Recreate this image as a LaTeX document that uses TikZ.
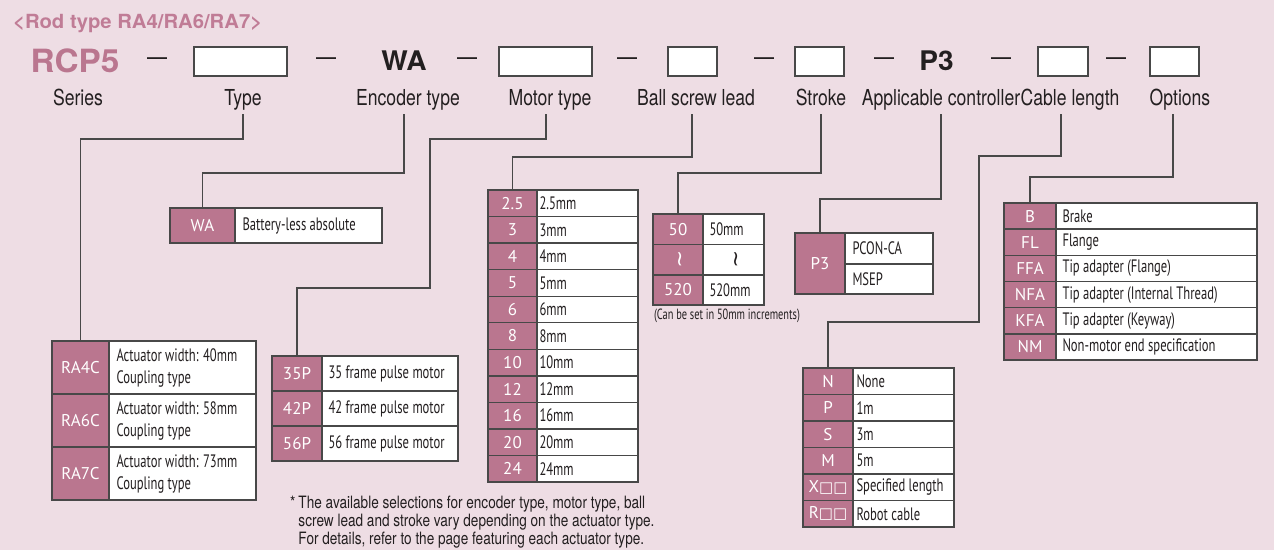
\documentclass[tikz,border=0pt]{standalone}
\usepackage{graphicx}
\usepackage{fontspec}
\setmainfont{TeX Gyre Heros}
\newfontfamily\hcn{TeX Gyre Heros}[FakeStretch=0.8]
\newfontfamily\hwd{TeX Gyre Heros}[FakeStretch=1.04]
\newfontfamily\pts{PT Sans}
\newfontfamily\ptn{PT Sans}[FakeStretch=0.70]
\newfontfamily\dvs{DejaVu Sans}
\definecolor{bgc}{RGB}{238,221,228}
\definecolor{pinkc}{RGB}{186,118,143}
\definecolor{titlec}{RGB}{192,124,150}
\definecolor{edgec}{RGB}{72,72,72}
\definecolor{txtc}{RGB}{35,31,32}
\newcommand\ccell[6]{%
 \pgfmathsetmacro\qcw{#3-#2}\pgfmathsetmacro\qch{#5-#4}%
 \pgfmathsetmacro\qcx{(#2+#3)/2}\pgfmathsetmacro\qcy{(#4+#5)/2}%
 \node[codecell, minimum width=\qcw pt, minimum height=\qch pt] (#1) at (\qcx,\qcy) {#6};}
\newcommand\dcell[7]{%
 \pgfmathsetmacro\qcw{#3-#2}\pgfmathsetmacro\qch{#5-#4}%
 \pgfmathsetmacro\qcx{(#2+#3)/2}\pgfmathsetmacro\qcy{(#4+#5)/2}%
 \node[desccell, minimum width=\qcw pt, minimum height=\qch pt] (#1) at (\qcx,\qcy) {};
 \node[desctext] (#1t) at ([xshift=#7pt]#1.west) {#6};}
\newcommand\rng{\rotatebox{-90}{\dvs\fontsize{21}{21}\selectfont ∼}}
\newcommand\sqq{{\dvs\fontsize{15}{15}\selectfont □□}}
\tikzset{
 lab/.style={anchor=base, inner sep=0, font=\hcn\fontsize{22}{26}\selectfont, text=txtc},
 dashs/.style={anchor=base, inner sep=0, font=\hcn\fontsize{25}{26}\selectfont, text=txtc},
 topbox/.style={draw=edgec, line width=1.3pt, fill=white, inner sep=0},
 bigpink/.style={anchor=base, inner sep=0, font=\hwd\bfseries\fontsize{32}{34}\selectfont, text=pinkc},
 bigblack/.style={anchor=base, inner sep=0, font=\hwd\bfseries\fontsize{27}{28}\selectfont, text=txtc},
 codecell/.style={draw=edgec, line width=1.4pt, fill=pinkc, text=white, inner sep=0, font=\pts\fontsize{17}{20}\selectfont},
 desccell/.style={draw=edgec, line width=1.4pt, fill=white, inner sep=0},
 desctext/.style={anchor=west, inner sep=0, text=txtc, align=left, font=\ptn\fontsize{18}{22}\selectfont},
 conn/.style={draw=edgec, line width=1.1pt},
}
\begin{document}
\begin{tikzpicture}[x=1pt,y=-1pt]
\useasboundingbox (0,0) rectangle (1274,550);
\fill[bgc] (0,0) rectangle (1274,550);
% title
\node[anchor=base west, inner sep=0, font=\hwd\bfseries\fontsize{19.5}{21}\selectfont, text=titlec] (title) at (13,28) {<Rod type RA4/RA6/RA7>};
% top row
\node[bigpink] (rcp) at (75,72) {RCP5};
\node[dashs] (d1) at (157,65) {—};
\node[topbox, minimum width=93pt, minimum height=29pt] (bType) at (240.5,61.5) {};
\node[dashs] (d2) at (326,65) {—};
\node[bigblack] (wa) at (404,70) {WA};
\node[dashs] (d3) at (467,65) {—};
\node[topbox, minimum width=93pt, minimum height=29pt] (bMotor) at (545.5,61.5) {};
\node[dashs] (d4) at (627,65) {—};
\node[topbox, minimum width=49pt, minimum height=29pt] (bLead) at (692.5,61.5) {};
\node[dashs] (d5) at (764,65) {—};
\node[topbox, minimum width=49pt, minimum height=29pt] (bStroke) at (819.5,61.5) {};
\node[dashs] (d6) at (884,65) {—};
\node[bigblack] (p3) at (936.5,70) {P3};
\node[dashs] (d7) at (1001,65) {—};
\node[topbox, minimum width=50pt, minimum height=29pt] (bCable) at (1063,61.5) {};
\node[dashs] (d8) at (1116,65) {—};
\node[topbox, minimum width=49pt, minimum height=29pt] (bOpt) at (1174.5,61.5) {};
% labels
\node[lab] (lSeries) at (78,105) {Series};
\node[lab] (lType) at (243,105) {Type};
\node[lab] (lEnc) at (408,105) {Encoder type};
\node[lab] (lMotor) at (550,105) {Motor type};
\node[lab] (lLead) at (696,105) {Ball screw lead};
\node[lab] (lStroke) at (821,105) {Stroke};
\node[lab] (lCtrl) at (941,105) {Applicable controller};
\node[lab] (lCable) at (1070,105) {Cable length};
\node[lab] (lOpt) at (1180,105) {Options};
\coordinate (tType) at (243,114);
\coordinate (tEnc) at (404,114);
\coordinate (tMotor) at (546,114);
\coordinate (tLead) at (692,114);
\coordinate (tStroke) at (821,114);
\coordinate (tCtrl) at (941,114);
\coordinate (tCable) at (1061,114);
\coordinate (tOpt) at (1173,114);
% type table
\ccell{ra0c}{52}{109}{341}{394}{RA4C}\dcell{ra0d}{109}{256}{341}{394}{Actuator width: 40mm\\Coupling type}{8}
\ccell{ra1c}{52}{109}{394}{447}{RA6C}\dcell{ra1d}{109}{256}{394}{447}{Actuator width: 58mm\\Coupling type}{8}
\ccell{ra2c}{52}{109}{447}{500}{RA7C}\dcell{ra2d}{109}{256}{447}{500}{Actuator width: 73mm\\Coupling type}{8}
% encoder table
\ccell{wac}{170}{235}{208}{243}{WA}\dcell{wad}{235}{382}{208}{243}{Battery-less absolute}{8}
% motor table
\ccell{m0c}{272}{322}{356}{391}{35P}\dcell{m0d}{322}{458}{356}{391}{35 frame pulse motor}{7}
\ccell{m1c}{272}{322}{391}{426}{42P}\dcell{m1d}{322}{458}{391}{426}{42 frame pulse motor}{7}
\ccell{m2c}{272}{322}{426}{461}{56P}\dcell{m2d}{322}{458}{426}{461}{56 frame pulse motor}{7}
% lead table
\foreach \qa/\qb [count=\i from 0] in {2.5/2.5mm,3/3mm,4/4mm,5/5mm,6/6mm,8/8mm,10/10mm,12/12mm,16/16mm,20/20mm,24/24mm}{
 \pgfmathsetmacro\ya{190+26.55*\i}\pgfmathsetmacro\yb{\ya+26.55}
 \ccell{l\i c}{488}{537}{\ya}{\yb}{\qa}\dcell{l\i d}{537}{638}{\ya}{\yb}{\qb}{3}
}
% stroke table
\ccell{s0c}{653}{703}{214}{244.5}{50}\dcell{s0d}{703}{764}{214}{244.5}{50mm}{7}
\ccell{s1c}{653}{703}{244.5}{275}{\rng}
\node[desccell, minimum width=61pt, minimum height=30.5pt, text=txtc] (s1d) at (733.5,259.75) {\rng};
\ccell{s2c}{653}{703}{275}{305}{520}\dcell{s2d}{703}{764}{275}{305}{520mm}{7}
\node[inner sep=0, font=\ptn\fontsize{14.8}{16}\selectfont, text=txtc] (note) at (727,316) {(Can be set in 50mm increments)};
% controller table
\ccell{p3c}{795}{845}{233}{294}{P3}
\dcell{p3a}{845}{933}{233}{264}{PCON-CA}{8}
\dcell{p3b}{845}{933}{264}{294}{MSEP}{8}
% cable table
\foreach \qa/\qb [count=\i from 0] in {N/None,P/1m,S/3m,M/5m,X\sqq/Specified length,R\sqq/Robot cable}{
 \pgfmathsetmacro\ya{368+26.5*\i}\pgfmathsetmacro\yb{\ya+26.5}
 \ccell{cb\i c}{803}{853}{\ya}{\yb}{\qa}\dcell{cb\i d}{853}{954}{\ya}{\yb}{\qb}{4}
}
% options table
\foreach \qa/\qb [count=\i from 0] in {B/Brake,FL/Flange,FFA/Tip adapter (Flange),NFA/Tip adapter (Internal Thread),KFA/Tip adapter (Keyway),NM/Non-motor end specification}{
 \pgfmathsetmacro\ya{203+26.17*\i}\pgfmathsetmacro\yb{\ya+26.17}
 \ccell{o\i c}{1004}{1056}{\ya}{\yb}{\qa}\dcell{o\i d}{1056}{1257}{\ya}{\yb}{\qb}{7}
}
% connectors
\draw[conn] (tType) -- ++(0,25) -| (ra0c.north);
\draw[conn] (tEnc) -- ++(0,59) -| (wac.north);
\draw[conn] (tMotor) -- ++(0,25) -| ++(-116,149) -| (m0c.north);
\draw[conn] (tLead) -- ++(0,43) -| (l0c.north);
\draw[conn] (tStroke) -- ++(0,59) -| (s0c.north);
\draw[conn] (tCtrl) -- ++(0,85) -| (p3c.north);
\draw[conn] (tCable) -- ++(0,42) -| ++(-82,166) -| (cb0c.north);
\draw[conn] (tOpt) -- ++(0,63) -| (o0c.north);
% footnote
\node[anchor=north west, inner sep=0, font=\hcn\fontsize{17}{18}\selectfont, text=txtc] (foot) at (290,495.5) {\begin{tabular}{@{}l@{\hspace{3pt}}l@{}}*&The available selections for encoder type, motor type, ball\\ &screw lead and stroke vary depending on the actuator type.\\ &For details, refer to the page featuring each actuator type.\end{tabular}};
\end{tikzpicture}
\end{document}
